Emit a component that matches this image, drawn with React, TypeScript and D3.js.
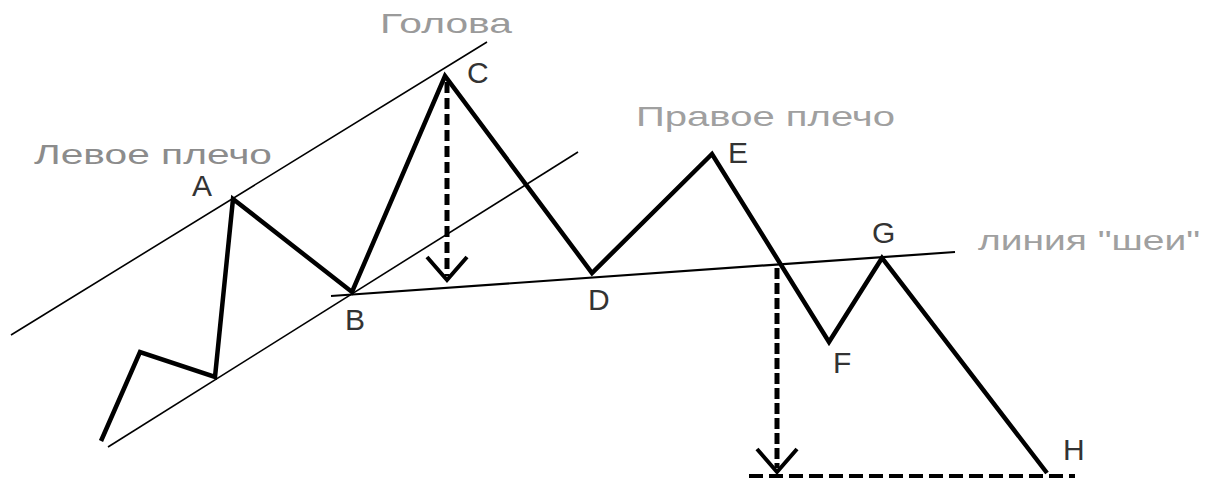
import React from "react";
import * as d3 from "d3";

// Abstract chart units: t = time, p = price
const pricePath: [number, number][] = [
  [10.1, 9.25],
  [14.0, 31.5],
  [21.5, 25.25],
  [23.3, 69.75],
  [35.2, 46.5],
  [44.5, 100.5],
  [59.2, 51.25],
  [71.2, 81.0],
  [82.9, 34.0],
  [88.2, 55.0],
  [104.7, 1.25],
];

const upperChannel: [number, number][] = [
  [1.1, 35.75],
  [48.7, 109.0],
];
const lowerChannel: [number, number][] = [
  [10.8, 7.75],
  [57.8, 81.5],
];
const neckline: [number, number][] = [
  [33.1, 45.5],
  [95.5, 56.5],
];

// target arrows: [t, pFrom, pTo]
const targetArrows: [number, number, number][] = [
  [44.7, 99.0, 49.5],
  [77.7, 52.5, 1.5],
];
const arrowHead = { halfWidth: 2.0, height: 5.75 };
const targetLine: [number, number][] = [
  [74.9, 0.5],
  [107.5, 0.5],
];

// point labels: [text, t, p]
const pointLabels: [string, number, number][] = [
  ["A", 19.2, 70.5],
  ["C", 46.7, 98.75],
  ["E", 72.8, 78.75],
  ["G", 87.2, 58.75],
  ["B", 34.5, 37.0],
  ["D", 58.8, 42.0],
  ["F", 83.3, 26.25],
  ["H", 106.3, 4.5],
];

// captions: [text, t, p, widthInT, colour]
const captions: [string, number, number, number, string][] = [
  ["Голова", 38.0, 111.25, 13.2, "#9a9a9a"],
  ["Левое плечо", 3.4, 78.5, 23.8, "#8c8c8c"],
  ["Правое плечо", 63.6, 88.0, 25.9, "#a0a0a0"],
  ["линия \"шеи\"", 97.8, 57.0, 22.2, "#a0a0a0"],
];

const W = 1205;
const H = 478;

export default function App() {
  const x = d3.scaleLinear().domain([0, 120.5]).range([0, W]);
  const y = d3.scaleLinear().domain([0, 119.5]).range([H, 0]);
  const line = d3
    .line<[number, number]>()
    .x((d) => x(d[0]))
    .y((d) => y(d[1]));

  return (
    <svg
      width={W}
      height={H}
      style={{ position: "fixed", left: 0, top: 0, background: "#fff" }}
    >
      <rect width={W} height={H} fill="#fff" />
      {/* channel lines */}
      <path d={line(upperChannel) || ""} stroke="#000" strokeWidth={1.6} fill="none" />
      <path d={line(lowerChannel) || ""} stroke="#000" strokeWidth={1.6} fill="none" />
      {/* neckline */}
      <path d={line(neckline) || ""} stroke="#000" strokeWidth={2.2} fill="none" />
      {/* target arrows */}
      {targetArrows.map(([t, p0, p1], i) => (
        <g key={i}>
          <path
            d={line([
              [t, p0],
              [t, p1 + 1],
            ]) || ""}
            stroke="#000"
            strokeWidth={5}
            strokeDasharray={i === 0 ? "11 5" : "11 4"}
            fill="none"
          />
          <path
            d={line([
              [t - arrowHead.halfWidth, p1 + arrowHead.height],
              [t, p1],
              [t + arrowHead.halfWidth, p1 + arrowHead.height],
            ]) || ""}
            stroke="#000"
            strokeWidth={4}
            fill="none"
            strokeLinejoin="miter"
          />
        </g>
      ))}
      <path
        d={line(targetLine) || ""}
        stroke="#000"
        strokeWidth={4}
        strokeDasharray="14 6"
        fill="none"
      />
      {/* price path */}
      <path
        d={line(pricePath) || ""}
        stroke="#000"
        strokeWidth={4.5}
        fill="none"
        strokeLinejoin="miter"
        strokeMiterlimit={10}
      />
      {/* point labels */}
      {pointLabels.map(([s, t, p]) => (
        <text
          key={s}
          x={x(t)}
          y={y(p)}
          fontFamily="'Liberation Sans', Arial, sans-serif"
          fontSize={30}
          fill="#333"
        >
          {s}
        </text>
      ))}
      {/* captions */}
      {captions.map(([s, t, p, w, c]) => (
        <text
          key={s}
          x={x(t)}
          y={y(p)}
          fontFamily="'Liberation Sans', Arial, sans-serif"
          fontSize={28}
          fill={c}
          textLength={x(w) - x(0)}
          lengthAdjust="spacingAndGlyphs"
        >
          {s}
        </text>
      ))}
    </svg>
  );
}
